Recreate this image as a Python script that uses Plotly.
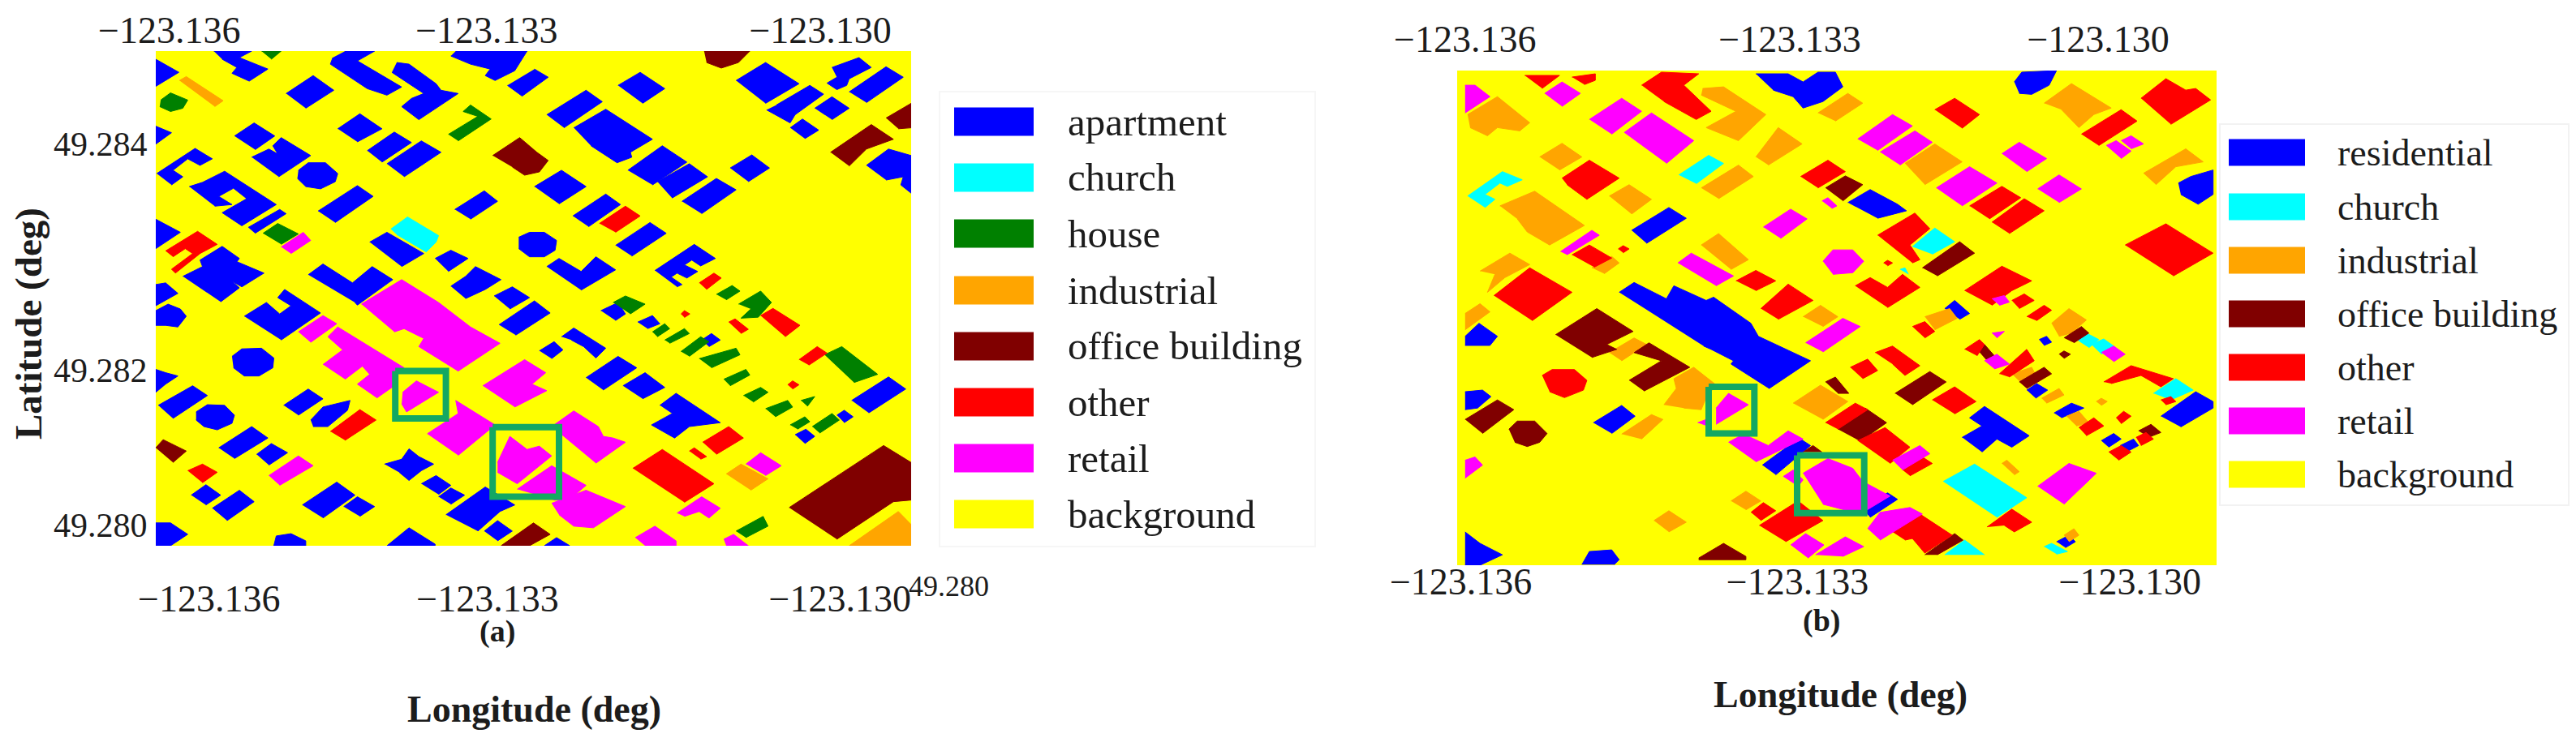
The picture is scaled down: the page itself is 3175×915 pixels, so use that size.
import plotly.graph_objects as go

W, H = 3175, 915
PAGE_MARGIN = 7  # the page itself pushes the figure in by this much

apartment_a = [
    [10,45, 57,85, 10,128], [128,20, 205,20, 180,40, 238,75, 200,112, 165,88, 175,70, 145,45],
    [395,20, 455,20, 420,50, 510,130, 480,155, 440,135, 365,60, 370,40],
    [500,55, 525,60, 580,120, 590,140, 625,150, 570,205, 545,230, 510,190, 530,165, 555,150, 490,85],
    [620,20, 765,20, 740,80, 700,110, 680,95, 690,75, 650,60, 610,35], [780,75, 808,100, 755,158, 725,125],
    [275,150, 330,95, 372,140, 315,195], [950,125, 995,85, 1045,135, 1000,180],
    [1190,110, 1250,55, 1318,120, 1250,180],
    [1385,70, 1440,40, 1465,70, 1420,105, 1415,125, 1395,138, 1375,118, 1395,100],
    [1420,145, 1495,68, 1530,100, 1455,178], [1272,185, 1340,125, 1368,152, 1310,215, 1300,240, 1252,200],
    [1350,195, 1385,160, 1420,195, 1385,230], [1300,255, 1325,228, 1358,262, 1330,288],
    [805,215, 885,140, 918,175, 840,255], [860,255, 925,198, 1020,290, 975,330, 978,345, 948,362, 895,310],
    [970,385, 1040,310, 1090,360, 1020,430], [1030,420, 1095,365, 1132,405, 1060,470],
    [1080,480, 1150,410, 1190,445, 1120,518], [1178,378, 1222,338, 1258,378, 1215,420],
    [10,250, 42,270, 10,305], [380,258, 425,212, 470,258, 420,298], [170,280, 210,240, 252,280, 212,322],
    [205,345, 240,320, 258,335, 248,310, 265,285, 325,340, 260,405],
    [440,325, 495,268, 530,300, 470,360], [480,365, 550,295, 590,330, 515,405],
    [300,385, 320,362, 355,362, 380,395, 375,420, 345,442, 315,435, 298,410],
    [12,395, 90,318, 125,350, 100,370, 75,350, 45,385, 65,405, 42,430],
    [78,435, 105,422, 150,388, 255,490, 185,555, 145,515, 195,472, 168,440, 138,465, 165,490, 130,495],
    [198,560, 262,505, 275,518, 212,578], [340,510, 420,432, 452,465, 375,545],
    [618,505, 678,448, 705,480, 650,535], [780,435, 835,385, 885,435, 830,488],
    [858,525, 925,458, 955,490, 890,558], [945,615, 1015,545, 1048,578, 978,648],
    [748,590, 770,575, 800,575, 825,600, 822,630, 800,650, 770,650, 748,625],
    [805,680, 830,655, 875,695, 905,650, 945,690, 875,752],
    [1025,692, 1105,612, 1148,655, 1118,678, 1100,660, 1085,675, 1112,695, 1090,715, 1070,700, 1058,712, 1080,735, 1070,742],
    [445,605, 480,575, 555,640, 510,680], [578,655, 610,630, 645,655, 605,695],
    [10,535, 35,555, 60,575, 10,625],
    [65,710, 105,680, 100,660, 145,618, 180,655, 175,665, 230,700, 185,742, 165,725, 180,745, 142,788],
    [320,705, 350,672, 410,730, 450,680, 492,720, 420,798, 415,790],
    [610,740, 640,710, 660,680, 712,720, 680,750, 640,778], [698,770, 735,742, 770,775, 730,810],
    [708,858, 780,785, 812,822, 742,890], [10,735, 30,730, 55,762, 10,800],
    [10,815, 35,795, 60,810, 72,832, 55,865, 30,860, 10,860],
    [190,832, 235,790, 262,825, 285,800, 258,775, 272,750, 345,822, 265,905],
    [790,938, 820,910, 838,935, 815,962], [835,895, 860,868, 925,930, 905,960, 880,925, 855,905],
    [885,1020, 950,955, 988,990, 920,1058], [960,1045, 1005,1005, 1045,1050, 1000,1085],
    [1035,1105, 1068,1068, 1158,1158, 1095,1170, 1065,1205, 1018,1165, 1060,1130],
    [1425,1090, 1500,1018, 1535,1055, 1460,1128],
    [165,955, 185,932, 225,930, 250,960, 248,990, 220,1015, 190,1015, 168,990],
    [10,995, 30,1005, 55,1015, 30,1040, 10,1065], [15,1105, 85,1045, 115,1075, 45,1145],
    [270,1105, 320,1055, 350,1085, 300,1135], [325,1150, 350,1110, 405,1090, 400,1120, 360,1170, 330,1170],
    [92,1125, 115,1103, 150,1105, 170,1135, 165,1160, 135,1180, 108,1170, 92,1150],
    [138,1235, 205,1170, 238,1205, 170,1268], [215,1255, 245,1222, 278,1250, 240,1288],
    [475,1285, 510,1270, 525,1238, 545,1262, 575,1285, 550,1305, 525,1335, 505,1310],
    [550,1345, 580,1320, 610,1350, 585,1378], [585,1385, 610,1358, 638,1380, 610,1408],
    [600,1440, 680,1355, 740,1410, 710,1430, 665,1490], [678,1490, 705,1458, 735,1490, 705,1520],
    [82,1380, 112,1348, 142,1380, 112,1410], [125,1420, 180,1365, 210,1400, 155,1458],
    [308,1410, 378,1340, 415,1380, 350,1450], [392,1415, 420,1385, 455,1415, 425,1445],
    [10,1465, 40,1465, 75,1500, 40,1535, 10,1535], [250,1535, 255,1505, 285,1498, 315,1520, 315,1535],
    [480,1535, 525,1480, 578,1530, 578,1535], [800,1535, 825,1510, 852,1535],
    [1310,1195, 1332,1178, 1350,1200, 1330,1222], [1395,1135, 1410,1120, 1428,1140, 1410,1158],
    [915,815, 950,790, 965,825, 945,845], [990,850, 1020,830, 1035,855, 1010,870],
    [1120,905, 1140,885, 1158,905, 1135,925],
    [1455,370, 1500,320, 1546,340, 1546,455, 1525,430, 1530,405, 1495,415],
]
church_a = [[488,565, 522,528, 585,585, 580,605, 560,635, 500,582]]
house_a = [
    [20,170, 40,148, 75,170, 65,195, 40,205, 18,190], [225,20, 265,20, 245,45],
    [605,275, 665,220, 635,205, 650,185, 692,228, 625,295], [228,578, 258,548, 300,580, 265,612],
    [940,790, 965,770, 1005,795, 975,825], [1150,765, 1182,738, 1198,755, 1170,782],
    [1195,795, 1240,755, 1262,790, 1235,835, 1200,838, 1220,810], [1020,880, 1045,855, 1055,870, 1030,895],
    [1045,905, 1085,870, 1095,885, 1055,915], [1078,940, 1118,895, 1135,910, 1095,955],
    [1115,962, 1190,930, 1198,950, 1140,990], [1165,1025, 1210,995, 1218,1012, 1178,1045],
    [1205,1075, 1240,1050, 1255,1065, 1225,1095], [1250,1115, 1295,1090, 1305,1110, 1270,1140],
    [1370,950, 1405,925, 1478,1010, 1430,1035], [1322,1090, 1350,1078, 1335,1108],
    [1300,1165, 1330,1140, 1340,1155, 1315,1178], [1345,1170, 1385,1130, 1400,1150, 1360,1190],
    [1190,1490, 1245,1445, 1255,1475, 1210,1510],
]
industrial_a = [
    [58,110, 72,98, 147,172, 130,190], [1170,1315, 1200,1285, 1255,1330, 1220,1365],
    [1420,1535, 1520,1430, 1546,1470, 1546,1535],
]
office_a = [
    [1125,20, 1218,20, 1195,55, 1160,72, 1130,55], [1382,330, 1465,245, 1510,290, 1455,320, 1420,372],
    [1495,225, 1546,180, 1546,255, 1520,258], [695,340, 750,285, 785,330, 808,355, 790,390, 760,400, 735,375],
    [10,1235, 25,1210, 72,1245, 45,1280], [1298,1418, 1490,1228, 1546,1280, 1546,1395, 1510,1400, 1395,1515],
    [712,1535, 778,1465, 812,1500, 770,1535],
]
other_a = [
    [30,632, 95,572, 135,612, 100,640, 50,700, 42,688, 85,640, 70,625, 45,650],
    [912,548, 965,495, 995,525, 945,575], [1115,730, 1145,700, 1160,715, 1130,750],
    [1078,825, 1085,815, 1096,825, 1085,836], [1175,850, 1188,840, 1215,872, 1200,885],
    [1240,830, 1265,808, 1320,860, 1290,895], [1318,965, 1355,925, 1375,945, 1338,982],
    [1295,1042, 1305,1030, 1318,1042, 1305,1055], [365,1185, 425,1118, 458,1150, 395,1212],
    [75,1305, 105,1285, 135,1310, 105,1342], [1122,1218, 1175,1170, 1205,1205, 1150,1255],
    [1095,1245, 1105,1235, 1130,1262, 1118,1270], [980,1298, 1040,1240, 1145,1345, 1085,1402],
]
retail_a = [
    [265,620, 310,575, 325,600, 285,640],
    [428,795, 510,720, 585,790, 650,865, 710,915, 625,1000, 545,925, 555,900, 515,870, 495,880],
    [300,880, 350,830, 378,855, 325,912],
    [350,980, 390,935, 360,895, 380,865, 515,990, 500,1000, 495,1045, 460,1082, 420,1040, 445,1010, 430,985, 395,1025],
    [512,1065, 540,1030, 585,1065, 520,1125, 510,1100],
    [675,1045, 760,965, 803,1005, 775,1040, 805,1060, 740,1110],
    [562,1192, 625,1130, 620,1090, 700,1165, 625,1258],
    [815,1170, 860,1122, 910,1170, 920,1200, 940,1205, 965,1218, 905,1282],
    [705,1280, 730,1200, 765,1240, 790,1230, 815,1260, 745,1345, 705,1310],
    [745,1362, 815,1290, 885,1350, 850,1395, 820,1395], [815,1405, 885,1365, 965,1415, 900,1480, 860,1475, 830,1440],
    [240,1320, 300,1260, 330,1290, 262,1350], [1210,1285, 1240,1250, 1282,1290, 1250,1320],
    [1070,1435, 1120,1385, 1158,1420, 1135,1450, 1115,1430, 1085,1445],
    [985,1510, 1025,1475, 1068,1520, 1068,1535, 1005,1535], [1165,1515, 1185,1500, 1215,1535, 1170,1535],
]
boxes_a = [[497,1000, 600,1000, 600,1145, 497,1145, 497,1000], [695,1172, 830,1172, 830,1385, 695,1385, 695,1172]]

residential_b = [
    [585,25, 650,25, 680,50, 710,20, 745,20, 760,65, 720,110, 680,130, 660,95, 620,75],
    [1105,50, 1120,20, 1190,15, 1175,60, 1140,88, 1115,85], [335,505, 410,435, 445,468, 365,545],
    [1435,360, 1460,340, 1505,320, 1505,395, 1475,425, 1440,395], [770,420, 815,380, 870,425, 888,445, 830,468],
    [310,695, 340,665, 405,715, 420,675, 485,720, 500,710, 575,790, 590,830, 695,905, 612,990, 535,915, 540,905, 495,870, 480,860],
    [0,830, 28,790, 65,830, 50,858, 0,858], [965,745, 985,720, 1015,760, 995,778],
    [1155,840, 1170,830, 1180,848, 1165,858], [0,1000, 35,995, 52,1015, 25,1050, 0,1055],
    [258,1095, 315,1042, 342,1075, 295,1128], [1400,1075, 1470,1000, 1505,1030, 1505,1050, 1440,1108],
    [1000,1140, 1040,1105, 1015,1080, 1045,1045, 1135,1135, 1100,1170, 1070,1145, 1040,1185],
    [1185,1065, 1220,1035, 1245,1050, 1200,1080], [1130,995, 1150,975, 1172,995, 1148,1020],
    [1280,1150, 1305,1128, 1320,1145, 1295,1170], [1318,1165, 1345,1145, 1355,1165, 1330,1185],
    [598,1225, 672,1142, 695,1165, 625,1255], [800,1360, 850,1310, 870,1330, 815,1385],
    [1190,1460, 1215,1440, 1228,1460, 1208,1478], [0,1430, 30,1465, 75,1500, 30,1532, 0,1532],
    [235,1530, 250,1490, 295,1485, 310,1515, 300,1530],
]
church_b = [
    [430,335, 490,275, 520,300, 465,362], [5,400, 75,325, 115,350, 85,370, 70,360, 40,395, 60,410, 40,435],
    [900,555, 945,498, 985,540, 940,578], [875,625, 885,620, 892,640], [1230,840, 1250,820, 1275,840, 1255,865],
    [1260,855, 1285,838, 1305,860, 1280,885], [1385,1005, 1430,960, 1465,995, 1420,1025],
    [962,1275, 1025,1222, 1130,1325, 1070,1385], [965,1500, 1005,1455, 1045,1500],
    [1165,1475, 1180,1465, 1212,1490, 1190,1498],
]
industrial_b = [
    [5,150, 65,95, 130,175, 110,200, 65,190, 45,215, 10,190], [150,280, 195,238, 235,280, 190,320],
    [290,400, 330,365, 375,410, 335,455], [475,375, 550,305, 580,340, 510,408],
    [478,70, 520,65, 605,150, 550,230, 485,190, 545,140, 475,90], [585,280, 630,190, 678,240, 610,305],
    [710,145, 770,85, 800,115, 745,170], [1165,115, 1220,55, 1300,130, 1265,150, 1235,190, 1200,135],
    [1365,330, 1450,255, 1485,295, 1430,310, 1390,365], [885,300, 945,240, 1000,295, 925,365],
    [70,430, 140,385, 240,490, 170,550, 125,510, 105,470], [30,630, 90,575, 130,610, 80,650, 45,695, 60,640],
    [255,620, 295,585, 310,605, 280,638], [0,760, 30,730, 50,755, 0,810], [475,550, 510,515, 570,595, 535,625],
    [680,770, 715,735, 750,770, 720,800], [925,770, 975,745, 990,775, 945,810],
    [1180,790, 1215,745, 1250,780, 1220,820, 1195,830], [290,880, 340,835, 365,855, 315,905],
    [400,1040, 425,990, 420,960, 460,925, 510,985, 490,1000, 475,1055, 440,1050],
    [315,1130, 375,1070, 398,1085, 355,1145], [660,1035, 715,980, 770,1030, 720,1085],
    [1080,1220, 1090,1210, 1115,1245, 1105,1255], [535,1335, 565,1305, 595,1335, 565,1362],
    [380,1395, 410,1365, 445,1400, 410,1430], [1210,1075, 1235,1060, 1255,1095, 1230,1105],
    [1100,945, 1140,925, 1150,955, 1120,975], [1160,1020, 1195,990, 1205,1010, 1170,1035],
    [1270,1030, 1280,1020, 1292,1030, 1280,1042], [1205,1440, 1225,1420, 1235,1440, 1215,1460],
]
office_b = [
    [725,375, 765,338, 800,365, 760,415], [920,620, 995,540, 1025,575, 950,645],
    [1205,835, 1240,800, 1255,820, 1225,850], [1195,885, 1205,875, 1218,885, 1205,898],
    [182,825, 240,770, 265,745, 338,815, 285,855, 305,870, 255,895],
    [330,965, 395,905, 340,880, 370,850, 452,925, 360,998], [0,1085, 65,1025, 98,1055, 35,1128],
    [88,1115, 105,1090, 140,1090, 165,1128, 150,1155, 125,1168, 100,1155],
    [865,1005, 935,938, 968,970, 900,1040], [725,970, 745,955, 772,1005, 750,1005],
    [750,1115, 805,1050, 848,1095, 795,1152], [1030,870, 1045,855, 1065,890, 1050,905],
    [1115,970, 1165,925, 1180,945, 1130,990], [1355,1120, 1380,1100, 1400,1125, 1375,1140],
    [470,1510, 520,1465, 565,1505, 565,1515, 470,1515], [925,1500, 985,1435, 1002,1455, 950,1500],
    [680,1185, 700,1165, 718,1185],
]
other_b = [
    [120,30, 190,30, 155,70], [215,35, 262,25, 262,45, 240,58],
    [355,60, 395,20, 470,25, 440,60, 495,140, 465,165, 400,110], [945,135, 985,100, 1035,150, 1000,192],
    [1360,100, 1410,40, 1450,75, 1470,70, 1500,105, 1420,180], [1240,210, 1320,135, 1352,170, 1275,245],
    [675,340, 730,290, 765,325, 710,375], [195,345, 250,290, 310,345, 245,410, 205,365],
    [1015,430, 1080,370, 1118,405, 1055,470], [1060,480, 1125,408, 1165,445, 1095,515],
    [830,520, 905,452, 935,500, 895,550, 915,595, 900,605], [215,580, 250,550, 295,590, 260,618],
    [308,562, 318,552, 330,562, 318,574], [1328,550, 1410,485, 1505,575, 1425,645],
    [545,660, 585,628, 625,660, 585,690], [58,705, 130,620, 215,695, 135,782],
    [595,745, 650,670, 700,720, 630,778], [785,675, 815,650, 850,680, 880,640, 915,680, 850,742],
    [1005,690, 1080,615, 1140,660, 1100,690, 1060,735], [1100,720, 1125,700, 1145,720, 1115,745],
    [1130,770, 1165,735, 1180,750, 1150,782], [900,800, 925,785, 945,815, 925,835],
    [1075,945, 1130,870, 1145,905, 1095,955], [1005,870, 1035,840, 1045,855, 1030,890],
    [1285,970, 1340,920, 1425,960, 1400,985, 1360,950, 1300,975], [825,880, 860,860, 915,920, 885,950, 860,915],
    [775,925, 810,900, 830,935, 800,960], [155,950, 175,932, 220,932, 245,965, 238,995, 200,1018, 170,1000],
    [940,1025, 985,985, 1028,1030, 985,1068], [725,1095, 785,1035, 810,1055, 750,1115],
    [790,1150, 845,1110, 895,1170, 855,1220], [880,1240, 920,1200, 940,1220, 895,1258],
    [1235,1110, 1265,1080, 1285,1105, 1250,1135], [1310,1080, 1325,1060, 1340,1075, 1320,1098],
    [1295,1185, 1320,1165, 1340,1185, 1315,1210], [1350,1140, 1370,1125, 1385,1145, 1360,1165],
    [1400,1025, 1420,1015, 1430,1030, 1410,1040], [592,1410, 670,1335, 720,1395, 645,1460],
    [575,1370, 600,1340, 625,1365, 595,1395], [860,1430, 915,1375, 980,1440, 925,1495, 900,1450, 885,1455],
    [1050,1415, 1100,1360, 1140,1400, 1105,1430, 1085,1410], [842,605, 850,597, 860,605, 850,614],
]
retail_b = [
    [0,60, 20,60, 50,95, 0,145], [160,85, 195,50, 232,85, 195,125], [250,165, 315,100, 355,140, 295,210],
    [320,205, 375,145, 460,230, 405,300], [790,225, 860,150, 900,185, 830,260], [835,265, 905,200, 940,235, 875,305],
    [1080,270, 1115,235, 1170,285, 1130,325], [948,375, 1015,310, 1070,360, 1000,430],
    [1152,378, 1195,335, 1240,378, 1195,420], [1290,245, 1310,230, 1340,262, 1320,285],
    [1320,230, 1340,215, 1365,240, 1340,255], [600,495, 655,440, 688,470, 635,530],
    [192,570, 255,505, 270,520, 205,580], [720,600, 740,565, 780,565, 802,600, 780,635, 740,640],
    [428,605, 455,575, 540,645, 505,675], [685,850, 760,775, 795,800, 720,878],
    [1060,715, 1085,705, 1095,725, 1075,735], [718,415, 730,405, 748,430, 738,438],
    [1060,820, 1085,815, 1070,835], [1045,905, 1070,885, 1095,915, 1065,930],
    [1280,880, 1305,860, 1328,885, 1305,908], [505,1050, 530,1005, 570,1040, 505,1100],
    [468,1095, 485,1085, 495,1110], [0,1210, 20,1200, 35,1225, 0,1265],
    [530,1155, 560,1130, 610,1165, 650,1120, 680,1145, 585,1215],
    [680,1250, 730,1205, 780,1235, 800,1275, 855,1320, 795,1375, 720,1345],
    [640,1260, 660,1240, 680,1270, 670,1290], [810,1420, 835,1370, 895,1355, 920,1375, 835,1455],
    [860,1210, 915,1165, 935,1190, 880,1240], [655,1470, 685,1435, 722,1470, 690,1510],
    [705,1500, 765,1445, 802,1475, 760,1505], [1152,1290, 1215,1220, 1270,1250, 1205,1345],
]
boxes_b = [[490,985, 582,985, 582,1128, 490,1128, 490,985], [668,1195, 803,1195, 803,1372, 668,1372, 668,1195]]

labels_a = ["apartment", "church", "house", "industrial", "office building", "other", "retail", "background"]
labels_b = ["residential", "church", "industrial", "office building", "other", "retail", "background"]
colors_a = ["#0000ff", "#00ffff", "#008000", "#ffa500", "#800000", "#ff0000", "#ff00ff", "#ffff00"]
colors_b = ["#0000ff", "#00ffff", "#ffa500", "#800000", "#ff0000", "#ff00ff", "#ffff00"]

top_ticks = ["−123.136", "−123.133", "−123.130"]
bottom_ticks = ["−123.136", "−123.133", "−123.130"]
lat_ticks = ["49.284", "49.282", "49.280"]

LON0_A, DLON_A = -123.13617, 4.51e-6
LON0_B, DLON_B = -123.136, 4.71e-6
LAT0, DLAT = 49.28505, 3.369e-6

FONT = "Liberation Serif"
INK = "#1c1c1c"
BOX_GREEN = "#14a862"


def map_trace(polys, color, lon0, dlon, xaxis, yaxis, name):
    xs, ys = [], []
    for p in polys:
        xs += [lon0 + c * dlon for c in p[0::2]] + [None]
        ys += [LAT0 - c * DLAT for c in p[1::2]] + [None]
    return go.Scatter(x=xs, y=ys, mode="lines", fill="toself", fillcolor=color, name=name,
                      line=dict(color=color, width=1), xaxis=xaxis, yaxis=yaxis,
                      hoverinfo="name", showlegend=False)


def box_trace(polys, lon0, dlon, xaxis, yaxis):
    xs, ys = [], []
    for p in polys:
        xs += [lon0 + c * dlon for c in p[0::2]] + [None]
        ys += [LAT0 - c * DLAT for c in p[1::2]] + [None]
    return go.Scatter(x=xs, y=ys, mode="lines", line=dict(color=BOX_GREEN, width=8),
                      xaxis=xaxis, yaxis=yaxis, hoverinfo="skip", showlegend=False)


fig = go.Figure()

layers_a = [apartment_a, church_a, house_a, industrial_a, office_a, other_a, retail_a]
for polys, color, name in zip(layers_a, colors_a, labels_a):
    fig.add_trace(map_trace(polys, color, LON0_A, DLON_A, "x", "y", name))
fig.add_trace(box_trace(boxes_a, LON0_A, DLON_A, "x3", "y"))

layers_b = [residential_b, church_b, industrial_b, office_b, other_b, retail_b]
for polys, color, name in zip(layers_b, colors_b, labels_b):
    fig.add_trace(map_trace(polys, color, LON0_B, DLON_B, "x2", "y2", name))
fig.add_trace(box_trace(boxes_b, LON0_B, DLON_B, "x4", "y2"))


def px(x):
    return (x - PAGE_MARGIN) / W


def py(y):
    return 1 - (y - PAGE_MARGIN) / H


def x_axis(domain, rng, vals, text, side, anchor, ticklen, standoff=0, **kw):
    return dict(domain=[px(domain[0]), px(domain[1])], range=rng, tickmode="array", tickvals=vals, ticktext=text,
                side=side, anchor=anchor, ticks="outside", ticklen=ticklen, tickcolor="rgba(0,0,0,0)",
                ticklabelstandoff=standoff, showgrid=False, zeroline=False, showline=False, automargin=False,
                tickfont=dict(family=FONT, size=46, color=INK), **kw)


lon_range_a = [LON0_A + 10 * DLON_A, LON0_A + 1546 * DLON_A]
lon_range_b = [LON0_B - 16 * DLON_B, LON0_B + 1512 * DLON_B]

fig.update_layout(
    width=W, height=H, autosize=False,
    margin=dict(l=0, r=0, t=0, b=0),
    paper_bgcolor="white", plot_bgcolor="#ffff00",
    showlegend=False,
    xaxis=x_axis((191, 1122), lon_range_a, [-123.135635, -123.133082, -123.129851], bottom_ticks, "bottom", "y", 25),
    xaxis3=x_axis((191, 1122), lon_range_a, [-123.136, -123.13309, -123.13003], top_ticks, "top", "y", 0, -9,
                  overlaying="x"),
    xaxis2=x_axis((1795, 2731), lon_range_b, [-123.13604, -123.13285, -123.1297], bottom_ticks, "bottom", "y2", 0, -20),
    xaxis4=x_axis((1795, 2731), lon_range_b, [-123.136, -123.132923, -123.13], top_ticks, "top", "y2", 4,
                  overlaying="x2"),
    yaxis=dict(domain=[py(672), py(62)], range=[LAT0 - 1535 * DLAT, LAT0 - 20 * DLAT], tickmode="array",
               tickvals=[49.28403, 49.28169, 49.28009], ticktext=lat_ticks, anchor="x", ticks="outside",
               ticklen=1, tickcolor="rgba(0,0,0,0)", showgrid=False, zeroline=False, showline=False,
               automargin=False, tickfont=dict(family=FONT, size=42, color=INK)),
    yaxis2=dict(domain=[py(696), py(86)], range=[LAT0 - 1532 * DLAT, LAT0 - 15 * DLAT], anchor="x2",
                showticklabels=False, ticks="", showgrid=False, zeroline=False, showline=False,
                automargin=False),
)

shapes = []
annotations = []


def add_text(x, y, text, size, bold=False, angle=0, anchor="center"):
    if bold:
        text = "<b>" + text + "</b>"
    annotations.append(dict(x=px(x), y=py(y), xref="paper", yref="paper", text=text, showarrow=False, textangle=angle,
                            xanchor=anchor, yanchor="middle", font=dict(family=FONT, size=size, color=INK)))


def add_legend(labels, colors, x0, x1, ys, height, text_x, size):
    for label, color, y in zip(labels, colors, ys):
        shapes.append(dict(type="rect", xref="paper", yref="paper", x0=px(x0), x1=px(x1),
                           y0=py(y + height / 2), y1=py(y - height / 2),
                           fillcolor=color, line=dict(width=0)))
        add_text(text_x, y, label, size, anchor="left")


add_legend(labels_a, colors_a, 1175, 1273, [149, 218, 287, 357, 426, 495, 564, 633], 35, 1313, 49)
add_legend(labels_b, colors_b, 2746, 2840, [187, 254, 320, 386, 452, 518, 584], 33, 2878, 46)

# faint frames left around the pasted legends
shapes.append(dict(type="rect", xref="paper", yref="paper", x0=px(1157), x1=px(1620), y0=py(673), y1=py(112),
                   line=dict(color="#f6f6f6", width=2)))
shapes.append(dict(type="rect", xref="paper", yref="paper", x0=px(2735), x1=px(3165), y0=py(622), y1=py(152),
                   line=dict(color="#f2f2f2", width=2)))

add_text(34, 398, "Latitude (deg)", 47, bold=True, angle=-90)
add_text(657, 873, "Longitude (deg)", 46, bold=True)
add_text(2267, 855, "Longitude (deg)", 46, bold=True)
add_text(612, 777, "(a)", 38, bold=True)
add_text(2244, 764, "(b)", 38, bold=True)
add_text(1168, 722, "49.280", 36)

fig.update_layout(shapes=shapes, annotations=annotations)

fig.write_html("out.html")
